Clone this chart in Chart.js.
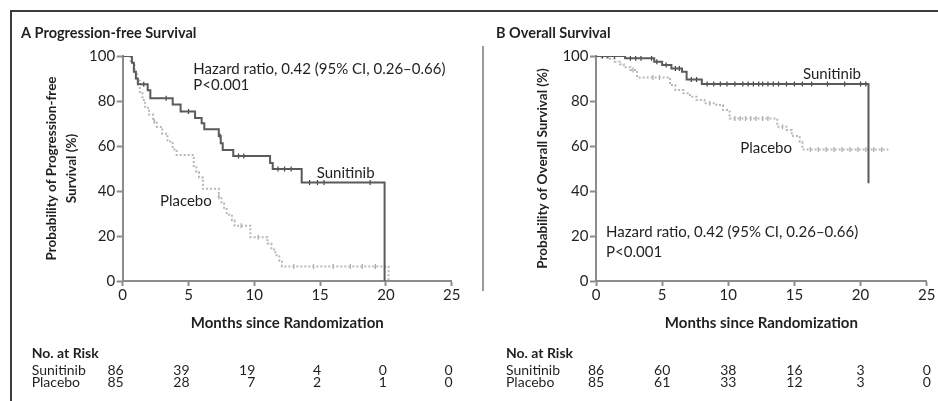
<!DOCTYPE html>
<html>
<head>
<meta charset="utf-8">
<script src="https://cdn.jsdelivr.net/npm/chart.js@4.4.1/dist/chart.umd.min.js"></script>
<style>
  html, body { margin: 0; padding: 0; background: #fff; }
  #wrap { position: relative; width: 938px; height: 401px; overflow: hidden; }
  #frame { position: absolute; left: 10px; top: 10px; width: 940px; height: 400px;
           border-left: 2px solid #3c3c3c; border-top: 2px solid #3c3c3c; }
  #divider { position: absolute; left: 482px; top: 46px; width: 2px; height: 245px; background: #9a9a9a; }
  canvas { position: absolute; top: 0; }
  #chartA { left: 0; }
  #chartB { left: 483px; }
</style>
</head>
<body>
<div id="wrap">
  <div id="frame"></div>
  <div id="divider"></div>
  <canvas id="chartA" width="483" height="401"></canvas>
  <canvas id="chartB" width="455" height="401"></canvas>
</div>
<script>
// --- data ---
const riskMonths = [0, 5, 10, 15, 20, 25];

// A: progression-free survival (months, % surviving)
const pfsSunTimes = [0, 0.7, 0.85, 1.0, 1.15, 1.9, 2.1, 3.8, 4.4, 5.5, 6.0, 6.2, 7.3, 7.45, 7.6, 8.4, 11.2, 11.4, 13.6, 19.9];
const pfsSunSurv  = [100, 97, 93, 90, 87.5, 84.8, 81.2, 78.5, 75.3, 72.5, 70.1, 67.4, 64.5, 61.2, 58.2, 55.6, 52.5, 49.8, 43.8, 0];
const pfsPlaTimes = [0, 0.6, 0.9, 1.1, 1.3, 1.5, 1.7, 2.0, 2.3, 2.6, 3.0, 3.4, 3.8, 4.1, 5.4, 5.6, 5.8, 6.1, 7.3, 7.5, 7.7, 7.9, 8.3, 8.5, 9.7, 11.0, 11.3, 11.6, 11.9, 12.1, 20.2];
const pfsPlaSurv  = [100, 97, 93, 89, 84, 80.5, 77, 74, 71, 68.5, 65.5, 62, 58.5, 56, 51, 48.5, 46, 41, 37.5, 34.5, 32, 29.5, 27, 24.6, 19.5, 16.7, 14, 11.5, 9, 6.5, 0];
const pfsSunCensor = [1.6, 3.3, 5.0, 7.4, 8.8, 9.2, 11.8, 12.3, 12.8, 14.2, 14.8, 15.3, 18.8];
const pfsPlaCensor = [2.4, 7.3, 9.0, 10.3, 13.0, 14.5, 16.0, 17.3, 18.2, 19.2];
const pfsRiskSun = [86, 39, 19, 4, 0, 0];
const pfsRiskPla = [85, 28, 7, 2, 1, 0];

// B: overall survival
const osSunTimes = [0, 2.2, 4.4, 5.0, 5.7, 6.5, 6.85, 8.0, 20.6];
const osSunSurv  = [100, 99, 97.5, 96, 94.5, 93, 89.6, 87.6, 43.4];
const osPlaTimes = [0, 1.05, 1.4, 1.8, 2.1, 2.6, 3.1, 5.6, 6.0, 6.6, 7.1, 7.6, 8.2, 9.1, 9.6, 10.1, 13.7, 14.4, 14.8, 15.4, 15.6, 22.1];
const osPlaSurv  = [100, 98.8, 97.5, 96.3, 95, 93.8, 90.5, 87.1, 84.9, 83.4, 81.9, 80.4, 79, 78.2, 76, 72.2, 68.6, 67.1, 64.4, 61.9, 58.5, 58.5];
const osSunCensor = [0.5, 0.9, 1.4, 2.6, 3.0, 3.4, 4.2, 4.6, 5.3, 6.0, 6.3, 7.2, 7.6, 8.4, 8.9, 9.4, 9.9, 10.5, 11.1, 11.5, 11.9, 12.3, 12.6, 13.0, 13.4, 13.8, 14.4, 15.0, 15.6, 16.3, 17.5, 18.8, 20.0, 20.4];
const osPlaCensor = [0.4, 0.8, 2.8, 4.3, 4.8, 8.6, 10.5, 10.9, 11.3, 11.7, 12.1, 12.6, 13.0, 14.1, 16.2, 16.8, 17.4, 18.0, 18.6, 19.2, 19.8, 20.4, 21.0, 21.6];
const osRiskSun = [86, 60, 38, 16, 3, 0];
const osRiskPla = [85, 61, 33, 12, 3, 0];

const FONT = 'Lato, "Open Sans", sans-serif';
const INK = '#231f20';
const AXIS = '#8c8c8c';
const SUN = '#5a5a5a';
const PLA = '#b8b8b8';

function stepAt(times, surv, t) {
  let v = surv[0];
  for (let i = 0; i < times.length; i++) if (times[i] <= t) v = surv[i];
  return v;
}
const curve = (times, surv) => times.map((t, i) => ({x: t, y: surv[i]}));
const marks = (times, surv, cens) => cens.map(t => ({x: t, y: stepAt(times, surv, t)}));

// texts drawn on top: panel title, notes, risk table
const overlay = {
  id: 'overlay',
  afterDraw(chart, args, o) {
    const {ctx} = chart;
    const x = chart.scales.x, y = chart.scales.y;
    ctx.save();
    ctx.fillStyle = INK;
    ctx.textBaseline = 'middle';
    ctx.textAlign = 'left';
    ctx.font = 'bold 14.5px ' + FONT;
    ctx.fillText(o.panel, o.panelX, 33);
    ctx.font = '15px ' + FONT;
    o.notes.forEach(n => ctx.fillText(n.text, x.getPixelForValue(n.x), y.getPixelForValue(n.y)));
    ctx.font = 'bold 14px ' + FONT;
    ctx.fillText('No. at Risk', o.tableX, 353);
    ctx.font = '14px ' + FONT;
    o.rows.forEach((r, k) => {
      const yy = 370 + k * 12.9;
      ctx.textAlign = 'left';
      ctx.fillText(r.label, o.tableX, yy);
      ctx.textAlign = o.numAlign;
      riskMonths.forEach((m, i) => ctx.fillText(String(r.values[i]), x.getPixelForValue(m) + o.numShift, yy));
    });
    ctx.restore();
  }
};

function makeChart(id, c) {
  return new Chart(document.getElementById(id), {
    type: 'line',
    data: {
      datasets: [
        {data: curve(c.sunT, c.sunS), borderColor: SUN, borderWidth: 2, stepped: 'before', pointRadius: 0, fill: false},
        {data: marks(c.sunT, c.sunS, c.sunC), showLine: false, pointStyle: 'line', rotation: 90, pointRadius: 2.5,
         pointBorderWidth: 1.2, pointBorderColor: '#3a3a3a'},
        {data: curve(c.plaT, c.plaS), borderColor: PLA, borderWidth: 2, borderDash: [2, 2], stepped: 'before', pointRadius: 0, fill: false},
        {data: marks(c.plaT, c.plaS, c.plaC), showLine: false, pointStyle: 'line', rotation: 90, pointRadius: 2.5,
         pointBorderWidth: 1.2, pointBorderColor: '#a8a8a8'}
      ]
    },
    options: {
      responsive: false,
      animation: false,
      events: [],
      layout: {padding: {left: 0, top: 56, right: c.padRight, bottom: 66}},
      plugins: {legend: {display: false}, tooltip: {enabled: false}, overlay: c.overlay},
      scales: {
        x: {
          type: 'linear', min: 0, max: 25,
          ticks: {stepSize: 5, color: INK, font: {family: FONT, size: 15}, padding: 0, maxRotation: 0},
          grid: {drawOnChartArea: false, tickLength: 5, tickColor: AXIS, tickWidth: 2},
          border: {color: AXIS, width: 2},
          title: {display: true, text: 'Months since Randomization', color: INK,
                  font: {family: FONT, size: 15, weight: 'bold'}, padding: {top: 0, bottom: 3}},
          afterFit(s) { s.height = 54; }
        },
        y: {
          min: 0, max: 100,
          ticks: {stepSize: 20, color: INK, font: {family: FONT, size: 15}, padding: 1.5},
          grid: {drawOnChartArea: false, tickLength: 6, tickColor: AXIS, tickWidth: 2},
          border: {color: AXIS, width: 2},
          title: {display: true, text: c.yTitle, color: INK,
                  font: {family: FONT, size: 13.5, weight: 'bold', lineHeight: 1.45}, padding: {top: c.yTitlePad, bottom: 0}},
          afterFit(s) { s.width = c.yWidth; }
        }
      }
    },
    plugins: [overlay]
  });
}

makeChart('chartA', {
  sunT: pfsSunTimes, sunS: pfsSunSurv, sunC: pfsSunCensor,
  plaT: pfsPlaTimes, plaS: pfsPlaSurv, plaC: pfsPlaCensor,
  padRight: 31.3, yWidth: 122.7, yTitlePad: 41.9,
  yTitle: ['Probability of Progression-free', 'Survival (%)'],
  overlay: {
    panel: 'A Progression-free Survival', panelX: 21, tableX: 31.7, numAlign: 'right', numShift: 1,
    notes: [
      {text: 'Hazard ratio, 0.42 (95% CI, 0.26\u20130.66)', x: 5.36, y: 94.2},
      {text: 'P<0.001', x: 5.36, y: 87.1},
      {text: 'Sunitinib', x: 14.74, y: 48.1},
      {text: 'Placebo', x: 2.83, y: 35.6}
    ],
    rows: [{label: 'Sunitinib', values: pfsRiskSun}, {label: 'Placebo', values: pfsRiskPla}]
  }
});

makeChart('chartB', {
  sunT: osSunTimes, sunS: osSunSurv, sunC: osSunCensor,
  plaT: osPlaTimes, plaS: osPlaSurv, plaC: osPlaCensor,
  padRight: 11.3, yWidth: 113, yTitlePad: 49.9,
  yTitle: 'Probability of Overall Survival (%)',
  overlay: {
    panel: 'B Overall Survival', panelX: 13, tableX: 23, numAlign: 'center', numShift: 0,
    notes: [
      {text: 'Hazard ratio, 0.42 (95% CI, 0.26\u20130.66)', x: 0.76, y: 21.9},
      {text: 'P<0.001', x: 0.76, y: 12.9},
      {text: 'Sunitinib', x: 15.65, y: 92},
      {text: 'Placebo', x: 10.9, y: 59}
    ],
    rows: [{label: 'Sunitinib', values: osRiskSun}, {label: 'Placebo', values: osRiskPla}]
  }
});
</script>
</body>
</html>
